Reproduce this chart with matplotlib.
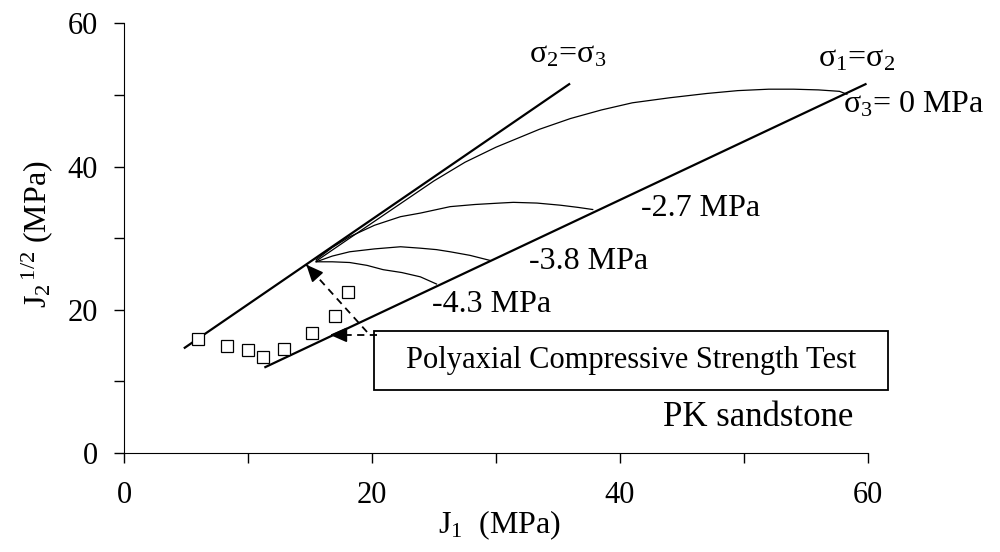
import matplotlib.pyplot as plt
from matplotlib.patches import Rectangle
import numpy as np

plt.rcParams['font.family'] = 'Liberation Serif'
plt.rcParams['mathtext.fontset'] = 'custom'
plt.rcParams['mathtext.rm'] = 'Liberation Serif'
plt.rcParams['mathtext.it'] = 'Liberation Serif'
plt.rcParams['font.size'] = 23

# meridian lines (J1, sqrt(J2))
comp_x = [4.9, 35.9]
comp_y = [14.7, 51.5]
ext_x = [11.4, 59.8]
ext_y = [12.0, 51.5]

# failure envelopes for each sigma_3 level
env_0_x = [15.5, 18.2, 21.6, 25.0, 27.5, 30.0, 33.5, 36.0, 38.5, 41.0, 44.0, 47.0, 49.5, 52.0, 54.0, 56.0, 57.7, 58.3]
env_0_y = [26.8, 30.0, 34.0, 38.0, 40.6, 42.7, 45.2, 46.7, 47.9, 48.9, 49.6, 50.2, 50.6, 50.8, 50.8, 50.7, 50.5, 50.1]
env_27_x = [15.5, 16.8, 18.2, 20.2, 22.3, 23.9, 26.3, 28.3, 30.3, 31.4, 33.3, 35.2, 36.6, 37.8]
env_27_y = [27.0, 28.7, 30.2, 31.8, 33.0, 33.5, 34.4, 34.7, 34.9, 35.0, 34.9, 34.6, 34.3, 34.0]
env_38_x = [15.5, 16.8, 18.2, 20.2, 22.3, 23.9, 25.2, 26.3, 27.9, 29.5]
env_38_y = [26.7, 27.5, 28.1, 28.5, 28.8, 28.6, 28.4, 28.1, 27.6, 26.9]
env_43_x = [15.5, 16.8, 18.2, 19.6, 20.9, 22.4, 23.9, 25.2]
env_43_y = [26.7, 26.7, 26.6, 26.2, 25.6, 25.2, 24.6, 23.6]

# test results
test_x = [6.0, 8.3, 10.0, 11.2, 12.9, 15.2, 17.0, 18.1]
test_y = [15.9, 15.0, 14.4, 13.4, 14.5, 16.8, 19.2, 22.5]

fig = plt.figure(figsize=(10, 5.52), dpi=100)
ax = fig.add_axes([0.124, 0.1793, 0.744, 0.7785])

ax.plot(comp_x, comp_y, color='black', lw=1.6)
ax.plot(ext_x, ext_y, color='black', lw=1.6)
for xs, ys in [(env_0_x, env_0_y), (env_27_x, env_27_y),
               (env_38_x, env_38_y), (env_43_x, env_43_y)]:
    ax.plot(xs, ys, color='black', lw=0.9)

ax.plot(test_x, test_y, ls='none', marker='s', ms=9, mfc='white',
        mec='black', mew=0.9, clip_on=False)

# dashed pointers from the test box, solid heads
head = dict(arrowstyle='-|>,head_length=0.8,head_width=0.35', color='black',
            lw=1.2, mutation_scale=13, shrinkA=0, shrinkB=0)
for (x0, y0), (x1, y1) in [((19.6, 16.9), (14.7, 26.3)),
                           ((20.4, 16.5), (16.6, 16.5))]:
    ax.plot([x0, x1], [y0, y1], color='black', lw=1.3, ls=(0, (4, 3)))
    ax.annotate('', xy=(x1, y1), xytext=(x1 + 0.15 * (x0 - x1), y1 + 0.15 * (y0 - y1)),
                arrowprops=head)

ax.add_patch(Rectangle((20.2, 8.8), 41.4, 8.3, fill=False, ec='black',
                       lw=1.3, clip_on=False, zorder=5))
ax.text(40.9, 12.9, 'Polyaxial Compressive Strength Test', ha='center',
        va='center', fontsize=22, zorder=6)

ax.text(32.7, 55.6, 'σ$_2$=σ$_3$', ha='left', va='center')
ax.text(56.0, 55.0, 'σ$_1$=σ$_2$', ha='left', va='center')
ax.text(58.0, 48.6, 'σ$_3$= 0 MPa', ha='left', va='center')
ax.text(41.7, 34.2, '-2.7 MPa', ha='left', va='center')
ax.text(32.7, 26.8, '-3.8 MPa', ha='left', va='center')
ax.text(24.8, 20.8, '-4.3 MPa', ha='left', va='center')
ax.text(43.5, 4.9, 'PK sandstone', ha='left', va='center', fontsize=25)

ax.set_xlim(0, 60)
ax.set_ylim(0, 60)
ticks = np.arange(0, 61, 10)
labels = [str(t) if t % 20 == 0 else '' for t in ticks]
ax.set_xticks(ticks)
ax.set_xticklabels(labels)
ax.set_yticks(ticks)
ax.set_yticklabels(labels)
ax.tick_params(direction='out', length=7, width=1, labelsize=22)
ax.tick_params(axis='x', pad=13)
ax.tick_params(axis='y', pad=12)
ax.spines['top'].set_visible(False)
ax.spines['right'].set_visible(False)

ax.set_xlabel('J$_1$  (MPa)')
ax.xaxis.set_label_coords(0.505, -0.13)
ax.set_ylabel('J$_2$$^{\\,1/2}$ (MPa)')
ax.yaxis.set_label_coords(-0.093, 0.51)

fig.savefig('out.png', dpi=100)
